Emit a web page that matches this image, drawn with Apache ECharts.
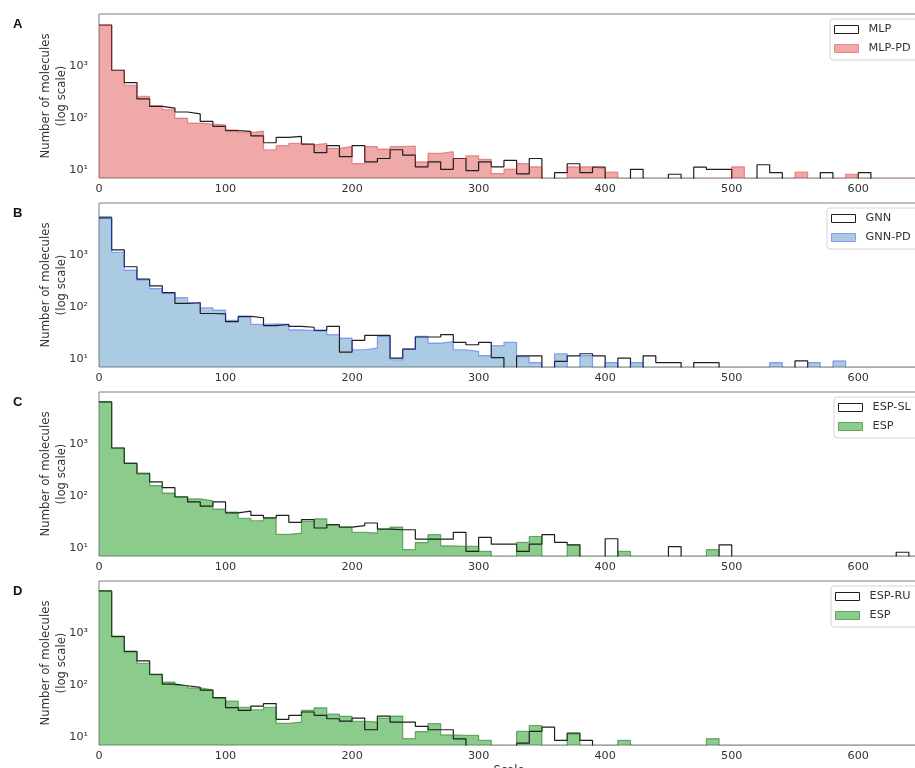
<!DOCTYPE html>
<html>
<head>
<meta charset="utf-8">
<title>Molecule count histograms</title>
<script src="https://cdn.jsdelivr.net/npm/echarts@6/dist/echarts.min.js"></script>
<style>
  html, body { margin: 0; padding: 0; background: #ffffff; }
  #chart { width: 915px; height: 768px; }
</style>
</head>
<body>
<div id="chart"></div>
<script>
// Histogram bins are 10 units wide, starting at 0 (65 bins: 0–650).
const BIN_WIDTH = 10;
const xTicks = [0, 100, 200, 300, 400, 500, 600];
const yTickPowers = [1, 2, 3];

// Counts per bin (0 = empty bin).
const mlp = [6100, 830, 480, 235, 169, 157, 132, 121, 87, 70,
  58, 56, 46, 34, 43, 45, 32, 22, 30, 18.4,
  30, 14.7, 17, 25, 19.8, 11.8, 14.7, 10.5, 17, 10,
  14.7, 11.8, 15.6, 8.6, 17, 0, 9.1, 13.5, 9.1, 11.6,
  0, 0, 10.5, 0, 0, 8.5, 0, 11.6, 10.5, 10.5,
  0, 0, 12.9, 9.1, 0, 0, 0, 9.1, 0, 0,
  9.1, 0, 0, 0, 0];

const mlpPd = [6000, 830, 425, 264, 175, 146, 101, 81, 77, 75,
  60, 53, 57, 25, 30, 33, 31, 33, 26.6, 28.7,
  13.6, 28.7, 25.8, 28.7, 29.5, 14.7, 21.3, 23, 17, 19.2,
  16.3, 8.75, 10.6, 13.6, 11.8, 0, 0, 11.8, 11.8, 10.9,
  9.3, 0, 0, 0, 0, 0, 0, 0, 0, 0,
  11.8, 0, 0, 0, 0, 9.3, 0, 0, 0, 8.5,
  0, 0, 0, 0, 0];

const gnn = [5120, 1253, 597, 345, 257, 191, 119, 122, 76, 75,
  53, 67, 63, 44.7, 47, 43, 41.5, 36.3, 43, 13.9,
  23.3, 29, 29, 10.6, 15.8, 27, 27, 29.9, 21.3, 19.2,
  21.3, 10.9, 0, 11.8, 11.8, 0, 9.2, 11.8, 12.9, 11.8,
  0, 10.6, 0, 11.8, 8.75, 8.75, 0, 8.75, 8.75, 0,
  0, 0, 0, 0, 0, 9.4, 0, 0, 0, 0,
  0, 0, 0, 0, 0];

const gnnPd = [5430, 1130, 515, 335, 228, 185, 153, 122, 98, 88,
  56, 65, 47, 48, 47, 37, 35.7, 35.2, 29.9, 25.8,
  15.4, 16.6, 27.8, 9.9, 15.8, 27.8, 20.7, 22, 15.4, 14.3,
  11.9, 18.4, 21.3, 11.4, 8.75, 0, 12.9, 0, 11.9, 0,
  8.75, 0, 8.75, 0, 0, 0, 0, 0, 0, 0,
  0, 0, 0, 8.75, 0, 0, 8.75, 0, 9.4, 0,
  0, 0, 0, 0, 0];

const espSl = [6400, 839, 425, 276, 188, 146, 97, 78, 65, 78,
  48, 52, 43, 38.5, 43, 31.8, 35.7, 24.7, 28.7, 25.8,
  27.4, 30.8, 23.6, 22.9, 22.9, 15.1, 15.1, 15.1, 20.4, 8.8,
  16.3, 12.1, 12.1, 8.8, 12.1, 18.4, 13.1, 11.8, 0, 0,
  15.4, 0, 0, 0, 0, 10.9, 0, 0, 0, 11.8,
  0, 0, 0, 0, 0, 0, 0, 0, 0, 0,
  0, 0, 0, 8.5, 0];

const esp = [6400, 840, 430, 264, 160, 115, 99, 89, 82, 57,
  50, 38, 34, 38, 18.6, 19.8, 33, 37, 28, 25.5,
  20.5, 19.8, 23.5, 25.8, 9.5, 13, 18.4, 11.2, 11, 11,
  8.8, 0, 0, 13.1, 17, 0, 0, 11.8, 0, 0,
  0, 8.8, 0, 0, 0, 0, 0, 0, 9.5, 0,
  0, 0, 0, 0, 0, 0, 0, 0, 0, 0,
  0, 0, 0, 0, 0];

const espRu = [6400, 865, 444, 293, 162, 105, 98, 91, 81, 58,
  37.4, 33, 40, 44.7, 22.2, 26.6, 30.8, 26.6, 22.9, 20.6,
  23.6, 14.1, 25.8, 19.8, 19.8, 16.3, 14.1, 14.1, 9.4, 0,
  0, 0, 0, 7.8, 13.1, 15.8, 8.8, 12.1, 8.8, 0,
  0, 0, 0, 0, 0, 0, 0, 0, 0, 0,
  0, 0, 0, 0, 0, 0, 0, 0, 0, 0,
  0, 0, 0, 0, 0];

// Panel definitions: outline histogram first, filled histogram drawn over it.
const panels = [
  { letter: 'A', top: 14,  outline: ['MLP', mlp],       filled: ['MLP-PD', mlpPd],
    fill: 'rgba(214,39,40,0.40)', edge: 'rgba(214,39,40,0.45)', legendLeft: 830, legendTop: 19 },
  { letter: 'B', top: 203, outline: ['GNN', gnn],       filled: ['GNN-PD', gnnPd],
    fill: 'rgba(31,119,180,0.38)', edge: 'rgba(40,60,255,0.45)', legendLeft: 827, legendTop: 208 },
  { letter: 'C', top: 392, outline: ['ESP-SL', espSl],  filled: ['ESP', esp],
    fill: 'rgba(44,160,44,0.55)', edge: 'rgba(20,110,20,0.55)', legendLeft: 834, legendTop: 397 },
  { letter: 'D', top: 581, outline: ['ESP-RU', espRu],  filled: ['ESP', esp],
    fill: 'rgba(44,160,44,0.55)', edge: 'rgba(20,110,20,0.55)', legendLeft: 831, legendTop: 586 }
];

const Y_MIN = 7.2, Y_MAX = 9900, X_MAX = 648;
const PANEL_H = 164;
const FLOOR = 1; // empty bins sit below the visible range and get clipped
const FONT = 'DejaVu Sans';
const TEXT = '#333333';
const SUP = { 1: '\u00b9', 2: '\u00b2', 3: '\u00b3' };

// Step-line points at the left bin edges, closed at the last edge.
function stepPoints(counts) {
  const pts = counts.map((c, i) => [i * BIN_WIDTH, c > 0 ? c : FLOOR]);
  pts.push([counts.length * BIN_WIDTH, FLOOR]);
  return pts;
}

const grid = [], xAxis = [], yAxis = [], series = [], legend = [], title = [];

panels.forEach((p, k) => {
  grid.push({ left: 99, top: p.top, width: 820, height: PANEL_H, show: true,
    outerBoundsMode: 'none', containLabel: false,
    borderColor: '#7f7f7f', borderWidth: 1, backgroundColor: 'transparent' });

  xAxis.push({
    type: 'value', gridIndex: k, min: 0, max: X_MAX, interval: 100,
    axisLine: { show: false }, axisTick: { show: false }, splitLine: { show: false },
    axisLabel: { margin: 6, fontSize: 11.2, fontFamily: FONT, color: TEXT,
      formatter: v => (xTicks.indexOf(v) >= 0 ? String(v) : '') },
    name: k === panels.length - 1 ? 'Scale' : '',
    nameLocation: 'middle', nameGap: 20, nameMoveOverlap: false,
    nameTextStyle: { fontSize: 11.5, fontFamily: FONT, color: TEXT, verticalAlign: 'top' }
  });

  yAxis.push({
    type: 'log', logBase: 10, gridIndex: k, min: Y_MIN, max: Y_MAX,
    axisLine: { show: false }, axisTick: { show: false }, splitLine: { show: false },
    axisLabel: { margin: 11, fontSize: 11.2, fontFamily: FONT, color: TEXT,
      formatter: v => {
        const e = Math.round(Math.log10(v));
        if (Math.abs(Math.log10(v) - e) > 1e-6 || yTickPowers.indexOf(e) < 0) return '';
        return '10' + SUP[e];
      } },
    name: 'Number of molecules\n(log scale)', nameLocation: 'middle', nameGap: 29,
    nameMoveOverlap: false,
    nameTextStyle: { fontSize: 11.7, fontFamily: FONT, color: TEXT, lineHeight: 16 }
  });

  series.push({
    name: p.outline[0], type: 'line', step: 'end', xAxisIndex: k, yAxisIndex: k,
    symbol: 'none', clip: true, silent: true,
    lineStyle: { color: '#1e1e1e', width: 1.2 },
    data: stepPoints(p.outline[1])
  });
  series.push({
    name: p.filled[0], type: 'line', step: 'end', xAxisIndex: k, yAxisIndex: k,
    symbol: 'none', clip: true, silent: true,
    lineStyle: { color: p.edge, width: 1.2 },
    areaStyle: { color: p.fill, origin: 'start', opacity: 1 },
    data: stepPoints(p.filled[1])
  });

  legend.push({
    orient: 'vertical', left: p.legendLeft, top: p.legendTop,
    itemWidth: 24, itemHeight: 8, itemGap: 8,
    padding: [5, 20, 6, 4], borderColor: '#d4d4d4', borderWidth: 1, borderRadius: 3,
    backgroundColor: 'rgba(255,255,255,0.85)', selectedMode: false,
    textStyle: { fontSize: 11.3, fontFamily: FONT, color: TEXT, padding: [0, 0, 0, 5] },
    data: [
      { name: p.outline[0], icon: 'rect',
        itemStyle: { color: '#ffffff', borderColor: '#1e1e1e', borderWidth: 1 } },
      { name: p.filled[0], icon: 'rect',
        itemStyle: { color: p.fill, borderColor: p.edge, borderWidth: 1 } }
    ]
  });

  title.push({ text: p.letter, left: 8, top: p.top - 1,
    textStyle: { fontSize: 13, fontWeight: 'bold', fontFamily: 'Liberation Sans', color: '#111' } });
});

const chart = echarts.init(document.getElementById('chart'), null, { renderer: 'canvas' });
chart.setOption({ animation: false, title, grid, xAxis, yAxis, series, legend });
</script>
</body>
</html>
